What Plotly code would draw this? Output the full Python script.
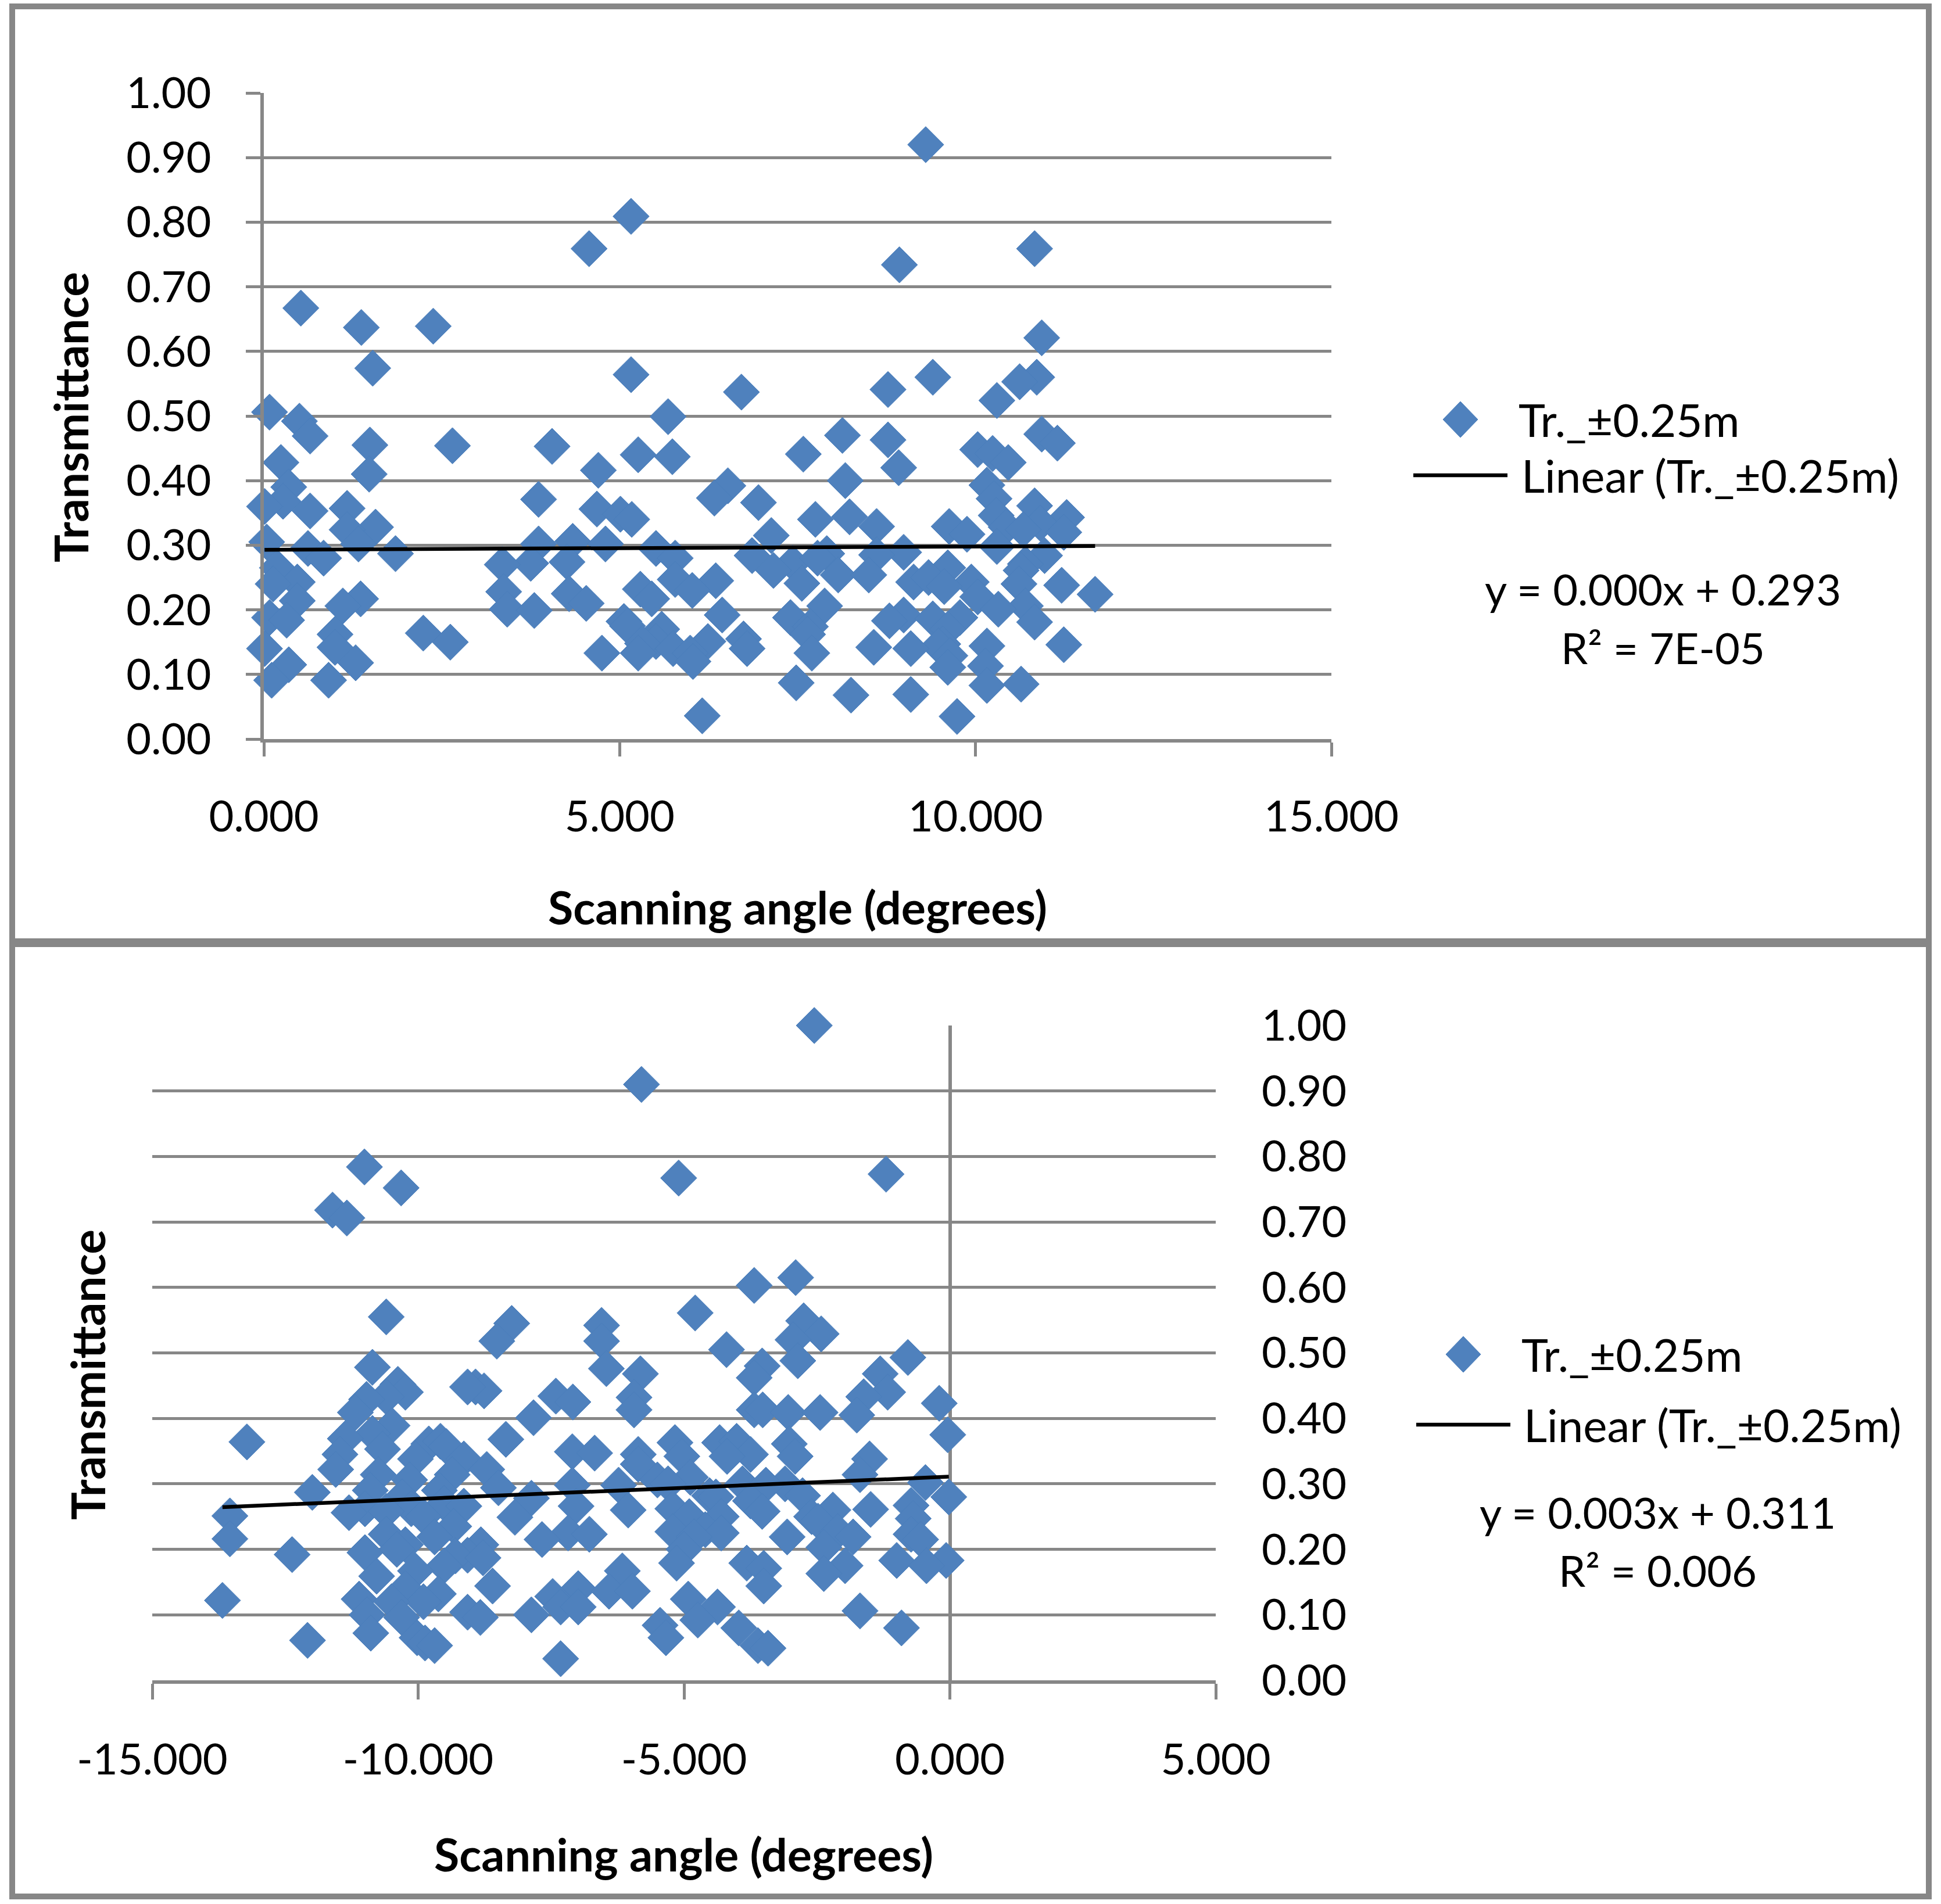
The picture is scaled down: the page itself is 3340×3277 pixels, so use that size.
import plotly.graph_objects as go

# ---- data ----
# top panel: positive scanning angles
top_angle = [
    9.30, 5.16, 4.57, 8.93, 10.83, 0.52, 1.37, 2.38, 10.93, 1.53, 5.16, 9.40, 10.86, 10.62, 6.71, 8.77, 10.30,
    0.08, 5.68, 0.50, 0.65, 1.49, 2.65, 4.05, 5.26, 5.74, 7.58, 8.13, 8.77, 8.92, 10.03, 10.24, 10.46, 10.93,
    11.15, 0.24, 1.48, 4.70, 0.35, 6.52, 8.17, 10.16,
    6.33, 3.86, 0.27, 6.95, 0.01, 10.26, 4.68, 0.65, 1.17, 5.01, 5.17, 7.75, 8.23, 10.29, 10.83, 11.28, 10.91,
    1.57, 1.17, 8.61, 9.63, 10.43, 10.67, 11.24, 7.13, 9.88, 0.04, 1.33, 3.86, 4.34, 4.80, 5.51, 10.30,
    0.62, 0.84, 1.85, 6.86, 7.91, 8.99, 8.61, 10.97, 5.78, 7.43, 7.78, 3.75, 3.35, 4.26, 10.70, 9.61, 0.19,
    7.16, 8.07, 8.50, 10.64, 5.78, 6.35, 9.13, 9.34, 9.94, 0.47, 0.13, 7.56, 10.61, 11.21, 9.56, 5.29, 6.02,
    4.29, 3.37, 11.68, 10.03, 1.36, 5.45, 0.47, 1.11, 4.53, 7.88, 10.70, 10.32, 3.42, 3.80,
    6.44, 7.40, 8.99, 9.40, 9.78, 8.79, 10.83, 0.08, 0.32, 5.06, 5.11, 5.59, 7.68, 9.61, 1.00, 2.24, 7.64,
    9.54, 2.62, 5.51, 6.24, 6.74, 11.24, 10.16, 9.48, 5.32, 8.57, 9.09, 0.01, 1.00, 4.75, 5.26, 5.75, 5.99,
    6.79, 7.70, 9.64, 6.03, 1.29, 0.35, 9.61, 10.14,
    0.11, 0.91, 10.16, 10.64, 7.48, 8.25, 9.09, 6.16, 9.74,
]
top_tr = [
    0.920, 0.809, 0.759, 0.734, 0.759, 0.667, 0.637, 0.639, 0.621, 0.574, 0.564, 0.560, 0.560, 0.553, 0.537, 0.541, 0.524,
    0.506, 0.499, 0.492, 0.469, 0.455, 0.454, 0.453, 0.440, 0.437, 0.441, 0.470, 0.463, 0.420, 0.448, 0.442, 0.428, 0.472,
    0.458, 0.428, 0.410, 0.416, 0.390, 0.392, 0.400, 0.393,
    0.373, 0.371, 0.368, 0.366, 0.360, 0.372, 0.356, 0.353, 0.357, 0.348, 0.340, 0.340, 0.344, 0.346, 0.361, 0.343, 0.334,
    0.328, 0.324, 0.329, 0.329, 0.328, 0.324, 0.320, 0.315, 0.317, 0.305, 0.302, 0.302, 0.306, 0.302, 0.295, 0.298,
    0.295, 0.280, 0.287, 0.284, 0.287, 0.289, 0.285, 0.284, 0.280, 0.272, 0.280, 0.272, 0.270, 0.274, 0.271, 0.265, 0.265,
    0.261, 0.254, 0.254, 0.261, 0.247, 0.245, 0.243, 0.250, 0.243, 0.243, 0.240, 0.241, 0.240, 0.238, 0.236, 0.232, 0.230,
    0.225, 0.228, 0.224, 0.220, 0.217, 0.217, 0.214, 0.206, 0.210, 0.206, 0.206, 0.201, 0.201, 0.199,
    0.192, 0.188, 0.192, 0.186, 0.188, 0.183, 0.181, 0.188, 0.184, 0.182, 0.175, 0.170, 0.174, 0.170, 0.162, 0.164, 0.162,
    0.147, 0.150, 0.151, 0.151, 0.155, 0.146, 0.144, 0.144, 0.148, 0.142, 0.140, 0.140, 0.142, 0.133, 0.133, 0.140, 0.133,
    0.140, 0.133, 0.129, 0.120, 0.118, 0.115, 0.111, 0.113,
    0.091, 0.091, 0.083, 0.085, 0.087, 0.068, 0.069, 0.036, 0.035,
]

# bottom panel: negative scanning angles
bottom_angle = [
    -2.55, -5.80, -11.01, -10.32, -11.61, -11.34, -5.10, -1.20, -2.90, -3.68, -4.79, -10.60, -8.24, -8.52,
    -6.55, -6.55, -2.75, -2.42, -2.95, -4.20,
    -0.79, -2.86, -3.53, -6.46, -10.86, -5.82, -1.31, -3.68, -10.38, -8.92, -8.76, -9.07, -1.17, -10.24,
    -5.94, -7.41, -7.09, -1.62, -10.60, -10.97, -0.20, -5.94, -3.68, -3.52, -11.18, -3.04, -2.44, -1.75, -7.83,
    -10.49, -0.04, -10.86, -11.37, -8.35, -13.22, -5.17, -4.33, -4.01, -3.02, -9.80, -9.58, -9.47, -7.10,
    -6.68, -5.86, -3.75, -11.47, -10.67, -5.04, -4.19, -2.91, -1.51, -10.05, -9.14, -5.86, -8.71, -11.55,
    -10.75, -9.36, -1.69, -4.88, -10.16, -5.50, -0.46, -5.30, -3.90, -3.10,
    -7.10, -6.23, -3.46, -8.49, -11.99, -10.90, -9.60, -4.52, -2.77, -0.02, -10.30, -4.40, -7.87, -3.75,
    -9.51, -0.73, -9.14, -7.03, -11.00, -10.13, -5.21, -6.05, -1.49, -2.20, -3.53, -10.60, -11.30, -13.54,
    -4.30, -8.18, -4.90, -9.90, -2.60, -0.69, -2.48, -9.33, -4.60, -5.21, -2.11, -7.18, -4.30, -6.78,
    -10.60, -0.73, -9.69, -4.81, -3.06, -1.82, -13.54, -7.67, -0.55, -8.82, -10.24, -2.37, -10.40, -5.00,
    -11.00, -12.37, -9.07, -9.30, -8.78, -1.00, -0.07, -5.14, -3.82, -9.51, -1.97, -0.44, -3.50, -6.16,
    -10.05, -2.37, -10.78, -8.60, -3.50, -10.24, -6.99, -6.41, -5.97, -9.62, -7.47, -11.11, -4.92, -13.68,
    -9.90, -10.50, -7.32, -6.99, -4.37, -1.69, -9.07, -7.87, -10.96,
    -8.83, -10.31, -4.74, -5.45, -3.97, -0.91, -10.89, -10.02, -5.34, -12.08, -9.87, -9.69, -3.61, -3.42, -7.32,
]
bottom_tr = [
    1.000, 0.910, 0.784, 0.752, 0.718, 0.706, 0.767, 0.773, 0.615, 0.603, 0.561, 0.555, 0.545, 0.518,
    0.542, 0.518, 0.549, 0.529, 0.520, 0.505,
    0.493, 0.488, 0.480, 0.476, 0.478, 0.468, 0.468, 0.462, 0.452, 0.448, 0.442, 0.448, 0.440, 0.440,
    0.432, 0.434, 0.425, 0.433, 0.433, 0.429, 0.423, 0.413, 0.413, 0.413, 0.409, 0.409, 0.409, 0.405, 0.401,
    0.389, 0.375, 0.377, 0.369, 0.368, 0.364, 0.363, 0.363, 0.365, 0.361, 0.361, 0.365, 0.357, 0.349,
    0.347, 0.345, 0.345, 0.345, 0.353, 0.342, 0.342, 0.342, 0.338, 0.338, 0.338, 0.330, 0.322, 0.322,
    0.314, 0.314, 0.314, 0.310, 0.306, 0.306, 0.302, 0.300, 0.300, 0.300,
    0.298, 0.298, 0.298, 0.294, 0.287, 0.290, 0.290, 0.282, 0.282, 0.280, 0.280, 0.280, 0.278, 0.274,
    0.270, 0.267, 0.266, 0.266, 0.262, 0.262, 0.262, 0.260, 0.261, 0.260, 0.258, 0.258, 0.256, 0.251,
    0.250, 0.249, 0.250, 0.250, 0.250, 0.247, 0.243, 0.235, 0.230, 0.227, 0.227, 0.225, 0.225, 0.223,
    0.223, 0.223, 0.219, 0.219, 0.219, 0.219, 0.216, 0.215, 0.215, 0.207, 0.207, 0.203, 0.200, 0.200,
    0.195, 0.192, 0.191, 0.190, 0.187, 0.183, 0.183, 0.179, 0.179, 0.175, 0.175, 0.175, 0.171, 0.167,
    0.167, 0.163, 0.159, 0.144, 0.144, 0.140, 0.140, 0.136, 0.136, 0.132, 0.128, 0.124, 0.124, 0.122,
    0.120, 0.120, 0.112, 0.112, 0.112, 0.106, 0.104, 0.100, 0.100,
    0.096, 0.096, 0.092, 0.084, 0.080, 0.080, 0.072, 0.065, 0.065, 0.061, 0.057, 0.053, 0.053, 0.049, 0.033,
]

# linear trend lines as reported by the chart (slope, intercept)
top_fit = (0.0005, 0.293)
bottom_fit = (0.0034, 0.311)
top_eq = ["y = 0.000x + 0.293", "R² = 7E-05"]
bottom_eq = ["y = 0.003x + 0.311", "R² = 0.006"]
series_name = "Tr._±0.25m"

top_xticks = [0, 5, 10, 15]
bottom_xticks = [-15, -10, -5, 0, 5]
yticks = [i / 10 for i in range(11)]

# ---- styling ----
W, H = 3340, 3277
BLUE = "#4F81BD"
GREY = "#878787"
FONT = "Lato, Roboto, sans-serif"
TICK_SIZE = 74
LEGEND_SIZE = 78
TITLE_X_SIZE = 79
TITLE_Y_SIZE = 80
TREND_W = 6.5
MARKER = dict(symbol="diamond", size=48, color=BLUE, line=dict(width=1, color="#4A7EBB"))


def px(x, y):
    """pixel position on the page -> paper fraction"""
    return x / W, 1 - y / H


def diamond_path(cx, cy, hw, hh):
    pts = [px(cx - hw, cy), px(cx, cy - hh), px(cx + hw, cy), px(cx, cy + hh)]
    return "M " + " L ".join(f"{a:.5f},{b:.5f}" for a, b in pts) + " Z"


def trend(xs, fit):
    lo, hi = min(xs), max(xs)
    return [lo, hi], [fit[0] * lo + fit[1], fit[0] * hi + fit[1]]


fig = go.Figure()

fig.add_trace(go.Scatter(x=top_angle, y=top_tr, mode="markers", marker=MARKER,
                         cliponaxis=False, xaxis="x", yaxis="y", name=series_name))
tx, ty = trend(top_angle, top_fit)
fig.add_trace(go.Scatter(x=tx, y=ty, mode="lines", line=dict(color="black", width=TREND_W),
                         xaxis="x", yaxis="y"))

fig.add_trace(go.Scatter(x=bottom_angle, y=bottom_tr, mode="markers", marker=MARKER,
                         cliponaxis=False, xaxis="x2", yaxis="y2", name=series_name))
bx, by = trend(bottom_angle, bottom_fit)
fig.add_trace(go.Scatter(x=bx, y=by, mode="lines", line=dict(color="black", width=TREND_W),
                         xaxis="x2", yaxis="y2"))

tickfont = dict(family=FONT, size=TICK_SIZE, color="black")

fig.update_layout(
    width=W, height=H,
    margin=dict(l=0, r=0, t=0, b=0, autoexpand=False),
    paper_bgcolor="white", plot_bgcolor="white",
    showlegend=False,
    font=dict(family=FONT, color="black"),
    xaxis=dict(
        domain=[454 / W, 2291 / W], range=[0, 15], anchor="y", automargin=False,
        tickmode="array", tickvals=top_xticks, ticktext=[f"{v:.3f}" for v in top_xticks],
        showgrid=False, zeroline=False, showline=True, linecolor=GREY, linewidth=5.5,
        ticks="outside", ticklen=24, tickwidth=5, tickcolor=GREY,
        tickfont=tickfont, ticklabelstandoff=40,
    ),
    yaxis=dict(
        domain=[1 - 1272 / H, 1 - 160 / H], range=[0, 1], anchor="x", automargin=False,
        tickmode="array", tickvals=yticks, ticktext=[f"{v:.2f}" for v in yticks],
        showgrid=True, gridcolor=GREY, gridwidth=5, zeroline=False,
        showline=True, linecolor=GREY, linewidth=5.5,
        ticks="outside", ticklen=25, tickwidth=5, tickcolor=GREY,
        tickfont=tickfont, ticklabelstandoff=45,
    ),
    xaxis2=dict(
        domain=[262 / W, 2092 / W], range=[-15, 5], anchor="y2", automargin=False,
        tickmode="array", tickvals=bottom_xticks, ticktext=[f"{v:.3f}" for v in bottom_xticks],
        showgrid=False, zeroline=True, zerolinecolor=GREY, zerolinewidth=5.5,
        showline=True, linecolor=GREY, linewidth=5.5,
        ticks="outside", ticklen=27, tickwidth=5, tickcolor=GREY,
        tickfont=tickfont, ticklabelstandoff=40,
    ),
    yaxis2=dict(
        domain=[1 - 2892 / H, 1 - 1765 / H], range=[0, 1], anchor="x2", side="right", automargin=False,
        tickmode="array", tickvals=yticks, ticktext=[f"{v:.2f}" for v in yticks],
        showgrid=True, gridcolor=GREY, gridwidth=5, zeroline=False, showline=False,
        ticks="", tickfont=tickfont, ticklabelstandoff=78,
    ),
)

annotations = []


def note(text, x, y, size=TICK_SIZE, xanchor="center", angle=0):
    ax, ay = px(x, y)
    annotations.append(dict(
        text=text, x=ax, y=ay, xref="paper", yref="paper", showarrow=False,
        xanchor=xanchor, yanchor="middle", textangle=angle,
        font=dict(family=FONT, size=size, color="black"),
    ))


# axis titles
note("<b>Scanning angle (degrees)</b>", 1372, 1560, TITLE_X_SIZE)
note("<b>Transmittance</b>", 121, 718, TITLE_Y_SIZE, angle=-90)
note("<b>Scanning angle (degrees)</b>", 1176, 3190, TITLE_X_SIZE)
note("<b>Transmittance</b>", 150, 2366, TITLE_Y_SIZE, angle=-90)

# legend text + trendline equations
note(series_name, 2611, 722, LEGEND_SIZE, xanchor="left")
note(f"Linear ({series_name})", 2616, 818, LEGEND_SIZE, xanchor="left")
note(top_eq[0], 2861, 1014)
note(top_eq[1], 2861, 1114)
note(series_name, 2616, 2331, LEGEND_SIZE, xanchor="left")
note(f"Linear ({series_name})", 2620, 2452, LEGEND_SIZE, xanchor="left")
note(bottom_eq[0], 2852, 2602)
note(bottom_eq[1], 2852, 2702)

shapes = []
# chart borders
for y0, y1 in [(11, 1620), (1625, 3264)]:
    x0p, y0p = px(21, y1)
    x1p, y1p = px(3319, y0)
    shapes.append(dict(type="rect", xref="paper", yref="paper", x0=x0p, x1=x1p, y0=y0p, y1=y1p,
                       line=dict(color=GREY, width=10), fillcolor="rgba(0,0,0,0)"))

# legend swatches
for cx, cy, lx0, lx1, ly in [(2513, 722, 2432, 2594, 818), (2518, 2331, 2437, 2599, 2452)]:
    shapes.append(dict(type="path", xref="paper", yref="paper", path=diamond_path(cx, cy, 30, 31),
                       fillcolor=BLUE, line=dict(color="#4A7EBB", width=1)))
    a0, b0 = px(lx0, ly)
    a1, _ = px(lx1, ly)
    shapes.append(dict(type="line", xref="paper", yref="paper", x0=a0, x1=a1, y0=b0, y1=b0,
                       line=dict(color="black", width=TREND_W)))

fig.update_layout(annotations=annotations, shapes=shapes)

# drop the browser's default 8px body margin so the page lines up with the reference
fig.write_html(
    "out.html",
    config={"displayModeBar": False},
    post_script="document.body.style.margin='0';",
)
